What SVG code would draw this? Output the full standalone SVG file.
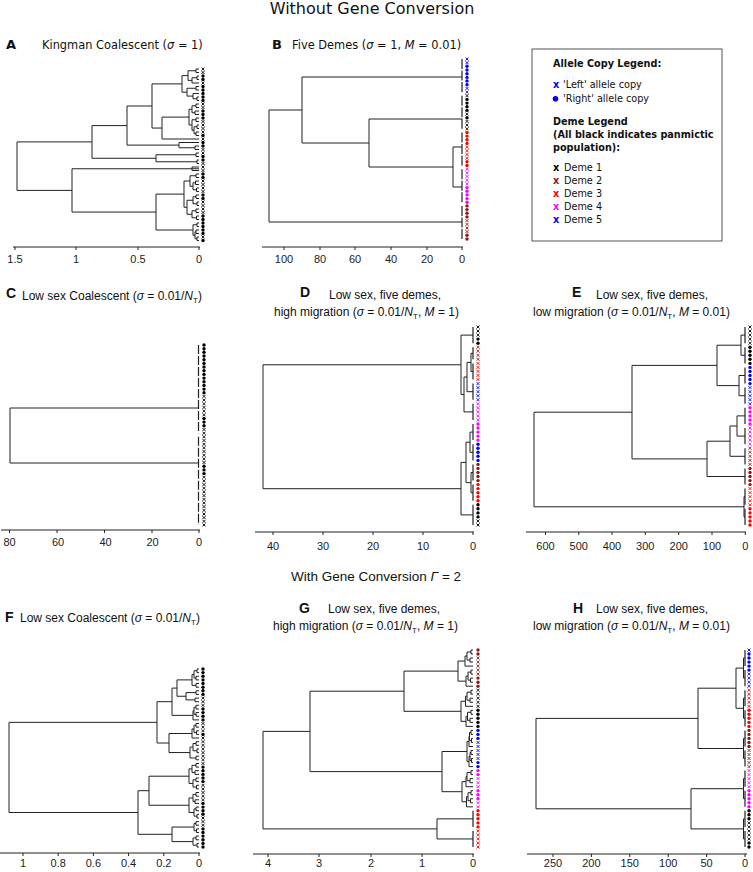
<svg xmlns="http://www.w3.org/2000/svg" xmlns:xlink="http://www.w3.org/1999/xlink" width="753" height="872" viewBox="0 0 753 872">
<style>
.dv{font-family:"DejaVu Sans",Verdana,sans-serif}
.ls{font-family:"Liberation Sans",Arial,sans-serif}
.tr{fill:none;stroke:#222;stroke-width:1}
.nz{fill:none;stroke:#222;stroke-width:1.2}
.ax{fill:none;stroke:#222;stroke-width:1}
.tk{font-family:"Liberation Sans",Arial,sans-serif;font-size:11px;text-anchor:middle;fill:#222}
.tt{font-family:"Liberation Sans",Arial,sans-serif;font-size:12px;fill:#111}
.lb{font-family:"Liberation Sans",Arial,sans-serif;font-size:14px;font-weight:bold;fill:#111}
.k{color:#000}.br{color:#8b1c1c}.r{color:#f00}.m{color:#f0f}.b{color:#00f}
.it{font-style:italic}
</style>
<defs>
<path id="x" d="M-1.5-1.5L1.5 1.5M-1.5 1.5L1.5-1.5" fill="none" stroke="currentColor" stroke-width="0.9"/>
<circle id="o" r="1.7" fill="currentColor"/>
</defs>
<rect width="753" height="872" fill="#fff"/>

<text x="372" y="14" text-anchor="middle" class="dv" font-size="16" fill="#111">Without Gene Conversion</text>
<text x="376" y="581" text-anchor="middle" class="ls" font-size="13.5" fill="#111">With Gene Conversion <tspan class="it">Γ</tspan> = 2</text>

<!-- Panel A -->
<g id="panelA">
<text x="6" y="49" class="dv" font-weight="bold" font-size="13" fill="#111">A</text>
<text x="42" y="49" class="dv" font-size="11.4" fill="#111">Kingman Coalescent (<tspan class="it">σ</tspan> = 1)</text>
<path class="tr" d="M199 69H196V72.5H199M199 76H197V79.5H199M197 77.75H192V83H199M196 70.75H188V80.4H192M199 86.5H196V90H199M199 97H197V100.5H199M199 93.5H193V98.75H197M196 88.25H187V96.1H193M188 75.6H182V92.2H187M199 104H196V107.5H199M199 111H195V114.5H199M196 105.75H192V112.75H195M199 118H196V121.5H199M199 125H197V128.5H199M199 132H196V135.5H199M197 126.75H194V133.75H196M196 119.75H192V130.25H194M192 109.25H189V125H192M189 117.1H162V139H199M182 83.9H152V128.05H162M199 146H195V149.5H199M199 142.5H179V147.75H195M152 106H127V145.1H179M199 153H196V156.5H199M199 160H197V163.5H199M196 154.75H156V161.75H197M127 125.6H92V158.25H156M199 167H192V170.5H199M199 174H196V177.5H199M199 181H195.5V184.5H199M199 188H196.5V191.5H199M195.5 182.75H193V189.75H196.5M196 175.75H190V186.25H193M199 195H196V198.5H199M199 202H197V205.5H199M196 196.75H193V203.75H197M199 209H196V212.5H199M199 216H196.5V219.5H199M196 210.75H192V217.75H196.5M193 200.25H187V214.25H192M190 181H184V207.25H187M199 223H197V226.5H199M199 230H196V233.5H199M199 237H197V240.5H199M196 231.75H195V238.75H197M197 224.75H193V235.25H195M184 194.1H156V230H193M199 168.75H72V212.05H156M92 141.9H17V190.4H72"/>
<g class="k" transform="translate(203 0)">
<use href="#x" y="69"/><use href="#x" y="72.5"/><use href="#o" y="76"/><use href="#o" y="79.5"/><use href="#x" y="83"/><use href="#o" y="86.5"/><use href="#o" y="90"/><use href="#o" y="93.5"/><use href="#o" y="97"/><use href="#o" y="100.5"/>
<use href="#x" y="104"/><use href="#x" y="107.5"/><use href="#o" y="111"/><use href="#o" y="114.5"/><use href="#o" y="118"/><use href="#x" y="121.5"/><use href="#x" y="125"/><use href="#x" y="128.5"/><use href="#x" y="132"/><use href="#o" y="135.5"/>
<use href="#x" y="139"/><use href="#o" y="142.5"/><use href="#o" y="146"/><use href="#x" y="149.5"/><use href="#x" y="153"/><use href="#o" y="156.5"/><use href="#o" y="160"/><use href="#x" y="163.5"/><use href="#x" y="167"/><use href="#x" y="170.5"/>
<use href="#o" y="174"/><use href="#o" y="177.5"/><use href="#x" y="181"/><use href="#x" y="184.5"/><use href="#x" y="188"/><use href="#x" y="191.5"/><use href="#o" y="195"/><use href="#o" y="198.5"/><use href="#x" y="202"/><use href="#x" y="205.5"/>
<use href="#x" y="209"/><use href="#x" y="212.5"/><use href="#o" y="216"/><use href="#o" y="219.5"/><use href="#o" y="223"/><use href="#o" y="226.5"/><use href="#o" y="230"/><use href="#o" y="233.5"/><use href="#x" y="237"/><use href="#o" y="240.5"/>
</g>
<path class="ax" d="M13 247H200M15 247v3M76 247v3M138 247v3M199 247v3"/>
<g class="tk"><text x="15" y="263">1.5</text><text x="76" y="263">1</text><text x="138" y="263">0.5</text><text x="199" y="263">0</text></g>
</g>

<!-- Panel B -->
<g id="panelB">
<text x="272" y="49" class="dv" font-weight="bold" font-size="13" fill="#111">B</text>
<text x="292" y="49" class="dv" font-size="11.4" fill="#111">Five Demes (<tspan class="it">σ</tspan> = 1, <tspan class="it">M</tspan> = 0.01)</text>
<path class="tr" d="M462 147H453V187H462M462 119H369V167H453M462 77H302V143H369M302 110H269V222H462"/>
<path class="nz" stroke-dasharray="10 1.5" d="M462 59V92.1M462 95.7V128.8M462 132.5V165.5M462 169.2V202.2M462 205.9V239"/>
<g transform="translate(467 0)">
<g class="b"><use href="#x" y="59"/><use href="#x" y="62.7"/><use href="#o" y="66.3"/><use href="#o" y="70"/><use href="#o" y="73.7"/><use href="#o" y="77.4"/><use href="#o" y="81"/><use href="#o" y="84.7"/><use href="#x" y="88.4"/><use href="#x" y="92.1"/></g>
<g class="k"><use href="#x" y="95.7"/><use href="#o" y="99.4"/><use href="#o" y="103.1"/><use href="#o" y="106.7"/><use href="#o" y="110.4"/><use href="#x" y="114.1"/><use href="#o" y="117.8"/><use href="#x" y="121.4"/><use href="#x" y="125.1"/><use href="#x" y="128.8"/></g>
<g class="r"><use href="#o" y="132.5"/><use href="#o" y="136.1"/><use href="#o" y="139.8"/><use href="#o" y="143.5"/><use href="#x" y="147.2"/><use href="#x" y="150.8"/><use href="#x" y="154.5"/><use href="#x" y="158.2"/><use href="#o" y="161.8"/><use href="#o" y="165.5"/></g>
<g class="m"><use href="#x" y="169.2"/><use href="#x" y="172.9"/><use href="#x" y="176.5"/><use href="#x" y="180.2"/><use href="#x" y="183.9"/><use href="#o" y="187.6"/><use href="#o" y="191.2"/><use href="#o" y="194.9"/><use href="#o" y="198.6"/><use href="#o" y="202.2"/></g>
<g class="br"><use href="#o" y="205.9"/><use href="#o" y="209.6"/><use href="#o" y="213.3"/><use href="#o" y="216.9"/><use href="#x" y="220.6"/><use href="#x" y="224.3"/><use href="#x" y="228"/><use href="#x" y="231.6"/><use href="#o" y="235.3"/><use href="#o" y="239"/></g>
</g>
<path class="ax" d="M262 247H463M284 247v3M320 247v3M355 247v3M391 247v3M427 247v3M462 247v3"/>
<g class="tk"><text x="284" y="263">100</text><text x="320" y="263">80</text><text x="355" y="263">60</text><text x="391" y="263">40</text><text x="427" y="263">20</text><text x="462" y="263">0</text></g>
</g>

<!-- Legend -->
<g id="legend">
<rect x="532" y="49" width="190" height="192" fill="#fff" stroke="#555" stroke-width="1"/>
<g class="dv" font-size="9.7" fill="#111">
<text x="553" y="67" font-weight="bold">Allele Copy Legend:</text>
<text x="553" y="88" font-weight="bold" fill="#00f">x</text><text x="563" y="88">'Left' allele copy</text>
<circle cx="555.5" cy="98.8" r="2.8" fill="#00f"/><text x="563" y="102">'Right' allele copy</text>
<text x="553" y="125" font-weight="bold">Deme Legend</text>
<text x="553" y="138" font-weight="bold">(All black indicates panmictic</text>
<text x="553" y="151" font-weight="bold">population):</text>
<text x="553" y="171" font-weight="bold" fill="#000">x</text><text x="564" y="171">Deme 1</text>
<text x="553" y="184" font-weight="bold" fill="#8b1c1c">x</text><text x="564" y="184">Deme 2</text>
<text x="553" y="197" font-weight="bold" fill="#f00">x</text><text x="564" y="197">Deme 3</text>
<text x="553" y="210" font-weight="bold" fill="#f0f">x</text><text x="564" y="210">Deme 4</text>
<text x="553" y="223" font-weight="bold" fill="#00f">x</text><text x="564" y="223">Deme 5</text>
</g>
</g>

<!-- Panel C -->
<g id="panelC">
<text x="6" y="298" class="lb">C</text>
<text x="22" y="300" class="tt">Low sex Coalescent (<tspan class="it">σ</tspan> = 0.01/<tspan class="it">N</tspan><tspan font-size="8" dy="3">T</tspan><tspan dy="-3">)</tspan></text>
<path class="tr" d="M199 408H10V463H199"/>
<path class="nz" stroke-dasharray="9 2" d="M198.5 345V433.2M198.5 436.8V525"/>
<g class="k" transform="translate(204 0)">
<use href="#o" y="345"/><use href="#o" y="348.7"/><use href="#o" y="352.3"/><use href="#o" y="356"/><use href="#o" y="359.7"/><use href="#o" y="363.4"/><use href="#o" y="367"/><use href="#o" y="370.7"/><use href="#o" y="374.4"/><use href="#o" y="378.1"/><use href="#o" y="381.7"/><use href="#o" y="385.4"/><use href="#o" y="389.1"/><use href="#o" y="392.7"/>
<use href="#x" y="396.4"/><use href="#x" y="400.1"/><use href="#x" y="403.8"/><use href="#x" y="407.4"/><use href="#x" y="411.1"/><use href="#x" y="414.8"/>
<use href="#o" y="418.5"/><use href="#o" y="422.1"/><use href="#o" y="425.8"/>
<use href="#x" y="429.5"/><use href="#x" y="433.2"/><use href="#x" y="436.8"/><use href="#x" y="440.5"/><use href="#x" y="444.2"/><use href="#x" y="447.8"/><use href="#x" y="451.5"/><use href="#x" y="455.2"/><use href="#x" y="458.9"/><use href="#x" y="462.5"/>
<use href="#o" y="466.2"/><use href="#o" y="469.9"/><use href="#o" y="473.6"/>
<use href="#x" y="477.2"/><use href="#x" y="480.9"/><use href="#x" y="484.6"/><use href="#x" y="488.2"/><use href="#x" y="491.9"/><use href="#x" y="495.6"/><use href="#x" y="499.3"/><use href="#x" y="502.9"/><use href="#x" y="506.6"/><use href="#x" y="510.3"/><use href="#x" y="514"/><use href="#x" y="517.6"/><use href="#x" y="521.3"/><use href="#x" y="525"/>
</g>
<path class="ax" d="M1 530H200M9.5 530v3M57 530v3M104.5 530v3M152 530v3M199 530v3"/>
<g class="tk"><text x="9.5" y="546">80</text><text x="58" y="546">60</text><text x="105.5" y="546">40</text><text x="152.5" y="546">20</text><text x="199" y="546">0</text></g>
</g>

<!-- Panel D -->
<g id="panelD">
<text x="300" y="297" class="lb">D</text>
<text x="329" y="299" class="tt">Low sex, five demes,</text>
<text x="274" y="316" class="tt">high migration (<tspan class="it">σ</tspan> = 0.01/<tspan class="it">N</tspan><tspan font-size="8" dy="3">T</tspan><tspan dy="-3">, </tspan><tspan class="it">M</tspan> = 1)</text>
<path class="tr" d="M473 353.3H471V371.5H473M471 362.4H467V391.7H473M467 377H464V411.9H473M473 335.1H461V394.5H464M473 432.1H470V452.3H473M473 472.5H471V492.7H473M470 442.2H466V482.6H471M466 462.4H461V514.9H473M461 364.8H263V488.7H461"/>
<path class="nz" d="M473 327V343.2M473 347.2V359.3M473 363.4V379.5M473 383.6V399.7M473 403.8V419.9M473 424V440.1M473 444.2V460.4M473 464.4V480.6M473 484.6V500.8M473 504.8V525"/>
<g transform="translate(478 0)">
<g class="k"><use href="#x" y="327"/><use href="#x" y="331"/><use href="#x" y="335.1"/><use href="#o" y="339.1"/><use href="#o" y="343.2"/></g>
<g class="br"><use href="#x" y="347.2"/><use href="#x" y="351.2"/><use href="#x" y="355.3"/><use href="#x" y="359.3"/></g>
<g class="r"><use href="#x" y="363.4"/><use href="#x" y="367.4"/><use href="#x" y="371.4"/><use href="#x" y="375.5"/><use href="#x" y="379.5"/></g>
<g class="b"><use href="#x" y="383.6"/><use href="#x" y="387.6"/><use href="#x" y="391.7"/><use href="#x" y="395.7"/><use href="#x" y="399.7"/></g>
<g class="m"><use href="#x" y="403.8"/><use href="#x" y="407.8"/><use href="#x" y="411.9"/><use href="#x" y="415.9"/><use href="#x" y="419.9"/><use href="#o" y="424"/><use href="#o" y="428"/><use href="#o" y="432.1"/><use href="#o" y="436.1"/><use href="#o" y="440.1"/></g>
<g class="b"><use href="#o" y="444.2"/><use href="#o" y="448.2"/><use href="#o" y="452.3"/><use href="#o" y="456.3"/><use href="#o" y="460.4"/></g>
<g class="br"><use href="#o" y="464.4"/><use href="#o" y="468.4"/><use href="#o" y="472.5"/><use href="#o" y="476.5"/><use href="#o" y="480.6"/></g>
<g class="r"><use href="#o" y="484.6"/><use href="#o" y="488.6"/><use href="#o" y="492.7"/><use href="#o" y="496.7"/><use href="#o" y="500.8"/></g>
<g class="k"><use href="#o" y="504.8"/><use href="#o" y="508.8"/><use href="#o" y="512.9"/><use href="#o" y="516.9"/><use href="#x" y="521"/><use href="#x" y="525"/></g>
</g>
<path class="ax" d="M255 532H474M273 532v3M323 532v3M373 532v3M423 532v3M473 532v3"/>
<g class="tk"><text x="273" y="550">40</text><text x="323" y="550">30</text><text x="373" y="550">20</text><text x="423" y="550">10</text><text x="473" y="550">0</text></g>
</g>

<!-- Panel E -->
<g id="panelE">
<text x="572" y="297" class="lb">E</text>
<text x="596" y="299" class="tt">Low sex, five demes,</text>
<text x="533" y="316" class="tt">low migration (<tspan class="it">σ</tspan> = 0.01/<tspan class="it">N</tspan><tspan font-size="8" dy="3">T</tspan><tspan dy="-3">, </tspan><tspan class="it">M</tspan> = 0.01)</text>
<path class="tr" d="M745 335.1H741V355.3H745M745 375.5H739V395.7H745M741 345.2H717V385.6H739M745 415.9H737V436.1H745M737 426H730V456.3H745M730 441.2H707V476.5H745M717 365.4H632V458.9H707M745 496.7H744V516.9H745M632 412.2H534V506.8H744"/>
<path class="nz" d="M745 327V343.2M745 347.2V363.4M745 367.4V383.6M745 387.6V403.8M745 407.8V424M745 428V444.2M745 448.2V464.4M745 468.4V484.6M745 488.6V504.8M745 508.8V525"/>
<g transform="translate(750 0)">
<g class="k"><use href="#x" y="327"/><use href="#x" y="331"/><use href="#x" y="335.1"/><use href="#x" y="339.1"/><use href="#x" y="343.2"/><use href="#o" y="347.2"/><use href="#o" y="351.2"/><use href="#o" y="355.3"/><use href="#o" y="359.3"/><use href="#o" y="363.4"/></g>
<g class="b"><use href="#o" y="367.4"/><use href="#o" y="371.4"/><use href="#o" y="375.5"/><use href="#o" y="379.5"/><use href="#o" y="383.6"/><use href="#x" y="387.6"/><use href="#x" y="391.7"/><use href="#x" y="395.7"/><use href="#x" y="399.7"/><use href="#x" y="403.8"/></g>
<g class="m"><use href="#o" y="407.8"/><use href="#o" y="411.9"/><use href="#o" y="415.9"/><use href="#o" y="419.9"/><use href="#o" y="424"/><use href="#x" y="428"/><use href="#x" y="432.1"/><use href="#x" y="436.1"/><use href="#x" y="440.1"/><use href="#x" y="444.2"/></g>
<g class="br"><use href="#x" y="448.2"/><use href="#x" y="452.3"/><use href="#x" y="456.3"/><use href="#x" y="460.4"/><use href="#x" y="464.4"/><use href="#o" y="468.4"/><use href="#o" y="472.5"/><use href="#o" y="476.5"/><use href="#o" y="480.6"/><use href="#o" y="484.6"/></g>
<g class="r"><use href="#x" y="488.6"/><use href="#x" y="492.7"/><use href="#x" y="496.7"/><use href="#x" y="500.8"/><use href="#x" y="504.8"/><use href="#o" y="508.8"/><use href="#o" y="512.9"/><use href="#o" y="516.9"/><use href="#o" y="521"/><use href="#o" y="525"/></g>
</g>
<path class="ax" d="M526 532H746M545.5 532v3M578.8 532v3M612 532v3M645.3 532v3M678.7 532v3M712 532v3M745.3 532v3"/>
<g class="tk"><text x="545.5" y="550">600</text><text x="578.8" y="550">500</text><text x="612" y="550">400</text><text x="645.3" y="550">300</text><text x="678.7" y="550">200</text><text x="712" y="550">100</text><text x="745.3" y="550">0</text></g>
</g>

<!-- Panel F -->
<g id="panelF">
<text x="5" y="622" class="lb">F</text>
<text x="20" y="622" class="tt">Low sex Coalescent (<tspan class="it">σ</tspan> = 0.01/<tspan class="it">N</tspan><tspan font-size="8" dy="3">T</tspan><tspan dy="-3">)</tspan></text>
<path class="tr" d="M199 669H197V672.6H199M199 676.3H196V679.9H199M197 670.8H194V678.1H196M199 683.5H196V687.2H199M194 674.45H192V685.35H196M199 690.8H196V694.4H199M199 698.1H195V701.7H199M196 692.6H186V699.9H195M192 679.9H177V696.25H186M199 705.3H196V709H199M199 712.6H196V716.2H199M196 707.15H194V714.4H196M194 710.8H193V719.9H199M177 688.1H172V715.35H193M199 723.5H196V727.1H199M199 730.8H196.5V734.4H199M196 725.3H194V732.6H196.5M194 728.95H192V738H199M199 741.7H196V745.3H199M199 748.9H197V752.6H199M196 743.5H193V750.75H197M199 756.2H196V759.8H199M193 747.1H190V758H196M192 733.5H169V752.55H190M172 701.7H157V743H169M199 763.5H196V767.1H199M199 770.7H195V774.4H199M196 765.3H192V772.55H195M199 778H196V781.6H199M199 785.3H196.5V788.9H199M196 779.8H193V787.1H196.5M192 768.9H189V783.45H193M199 792.5H196V796.2H199M199 799.8H195V803.4H199M196 794.35H193V801.6H195M199 807.1H196V810.7H199M199 814.3H197V818H199M196 808.9H194V816.15H197M193 798H189V812.5H194M189 776.2H149V805.25H189M199 821.6H196V825.2H199M199 828.9H196.5V832.5H199M196 823.4H194V830.7H196.5M199 836.1H196V839.8H199M199 843.4H197V847H199M196 837.95H193V845.2H197M194 827.05H172V841.6H193M149 790.7H138V834.3H172M157 722.35H9V812.5H138"/>
<g class="k" transform="translate(203 0)">
<use href="#o" y="669"/><use href="#o" y="672.6"/><use href="#o" y="676.3"/><use href="#o" y="679.9"/><use href="#o" y="683.5"/><use href="#o" y="687.2"/><use href="#o" y="690.8"/><use href="#o" y="694.4"/>
<use href="#x" y="698.1"/><use href="#x" y="701.7"/><use href="#x" y="705.3"/>
<use href="#o" y="709"/><use href="#o" y="712.6"/><use href="#o" y="716.2"/><use href="#o" y="719.9"/>
<use href="#x" y="723.5"/><use href="#x" y="727.1"/><use href="#x" y="730.8"/><use href="#o" y="734.4"/>
<use href="#x" y="738"/><use href="#x" y="741.7"/><use href="#x" y="745.3"/><use href="#x" y="748.9"/><use href="#x" y="752.6"/><use href="#x" y="756.2"/><use href="#x" y="759.8"/><use href="#x" y="763.5"/>
<use href="#o" y="767.1"/><use href="#o" y="770.7"/><use href="#o" y="774.4"/><use href="#o" y="778"/><use href="#o" y="781.6"/>
<use href="#x" y="785.3"/><use href="#x" y="788.9"/><use href="#x" y="792.5"/><use href="#x" y="796.2"/><use href="#x" y="799.8"/>
<use href="#o" y="803.4"/><use href="#o" y="807.1"/><use href="#o" y="810.7"/><use href="#o" y="814.3"/>
<use href="#x" y="818"/><use href="#x" y="821.6"/><use href="#x" y="825.2"/>
<use href="#o" y="828.9"/><use href="#o" y="832.5"/><use href="#o" y="836.1"/><use href="#o" y="839.8"/><use href="#o" y="843.4"/><use href="#o" y="847"/>
</g>
<path class="ax" d="M0 853H200M23 853v3M58.2 853v3M93.4 853v3M128.6 853v3M163.8 853v3M199 853v3"/>
<g class="tk"><text x="23" y="867">1</text><text x="58.2" y="867">0.8</text><text x="93.4" y="867">0.6</text><text x="128.6" y="867">0.4</text><text x="163.8" y="867">0.2</text><text x="199" y="867">0</text></g>
</g>

<!-- Panel G -->
<g id="panelG">
<text x="299" y="613" class="lb">G</text>
<text x="328" y="613" class="tt">Low sex, five demes,</text>
<text x="273" y="630" class="tt">high migration (<tspan class="it">σ</tspan> = 0.01/<tspan class="it">N</tspan><tspan font-size="8" dy="3">T</tspan><tspan dy="-3">, </tspan><tspan class="it">M</tspan> = 1)</text>
<path class="tr" d="M473 650H471V654H473M473 658H470V662.1H473M471 652H467V660.05H470M467 656H465V666.1H473M473 670.1H471V674.1H473M473 678.1H470.5V682.2H473M471 672.1H468V680.15H470.5M468 676.1H466V686.2H473M465 661.05H458V681.15H466M473 690.2H471V694.2H473M473 698.2H470V702.3H473M471 692.2H467V700.25H470M467 696.2H465.5V706.3H473M473 710.3H471V714.3H473M473 718.3H470V722.4H473M471 712.3H467.5V720.35H470M467.5 716.3H466V726.4H473M465.5 701.25H461V721.35H466M458 671.1H404V711.3H461M473 730.4H471V734.4H473M473 738.4H471.5V742.5H473M471 732.4H469.5V740.45H471.5M469.5 736.4H469V746.5H473M473 750.5H471V754.5H473M473 758.5H471.5V762.6H473M471 752.5H470V760.55H471.5M470 756.5H469V766.6H473M469 741.45H467V761.55H469M473 770.6H471V774.6H473M473 778.6H470V782.7H473M471 772.6H467V780.65H470M467 776.6H466V786.7H473M473 790.7H471V794.7H473M473 798.7H470.5V802.8H473M471 792.7H468V800.75H470.5M468 796.7H466.5V806.8H473M466 781.65H462V801.75H466.5M467 751.5H442V791.7H462M404 691.2H310V771.6H442M473 818.85H437V838.95H473M310 731.4H263V828.9H437"/>
<path class="nz" d="M473 810.8V826.9M473 830.9V847"/>
<g transform="translate(478 0)">
<g class="br"><use href="#o" y="650"/><use href="#o" y="654"/><use href="#x" y="658"/><use href="#x" y="662.1"/><use href="#x" y="666.1"/><use href="#x" y="670.1"/><use href="#x" y="674.1"/><use href="#o" y="678.1"/><use href="#o" y="682.2"/><use href="#o" y="686.2"/></g>
<g class="k"><use href="#x" y="690.2"/><use href="#x" y="694.2"/><use href="#x" y="698.2"/><use href="#x" y="702.3"/><use href="#x" y="706.3"/><use href="#o" y="710.3"/><use href="#o" y="714.3"/><use href="#o" y="718.3"/><use href="#o" y="722.4"/><use href="#o" y="726.4"/></g>
<g class="b"><use href="#o" y="730.4"/><use href="#o" y="734.4"/><use href="#o" y="738.4"/><use href="#x" y="742.5"/><use href="#x" y="746.5"/><use href="#x" y="750.5"/><use href="#x" y="754.5"/><use href="#x" y="758.5"/><use href="#o" y="762.6"/><use href="#o" y="766.6"/></g>
<g class="m"><use href="#o" y="770.6"/><use href="#o" y="774.6"/><use href="#x" y="778.6"/><use href="#x" y="782.7"/><use href="#x" y="786.7"/><use href="#o" y="790.7"/><use href="#o" y="794.7"/><use href="#o" y="798.7"/><use href="#x" y="802.8"/><use href="#x" y="806.8"/></g>
<g class="r"><use href="#o" y="810.8"/><use href="#o" y="814.8"/><use href="#o" y="818.8"/><use href="#o" y="822.9"/><use href="#o" y="826.9"/><use href="#x" y="830.9"/><use href="#x" y="834.9"/><use href="#x" y="838.9"/><use href="#x" y="843"/><use href="#x" y="847"/></g>
</g>
<path class="ax" d="M253 854H474M268 854v3M319 854v3M371 854v3M422 854v3M473 854v3"/>
<g class="tk"><text x="268" y="867">4</text><text x="319" y="867">3</text><text x="371" y="867">2</text><text x="422" y="867">1</text><text x="473" y="867">0</text></g>
</g>

<!-- Panel H -->
<g id="panelH">
<text x="573" y="613" class="lb">H</text>
<text x="596" y="613" class="tt">Low sex, five demes,</text>
<text x="533" y="630" class="tt">low migration (<tspan class="it">σ</tspan> = 0.01/<tspan class="it">N</tspan><tspan font-size="8" dy="3">T</tspan><tspan dy="-3">, </tspan><tspan class="it">M</tspan> = 0.01)</text>
<path class="tr" d="M745 658H743.5V678.1H745M745 698.2H743.5V718.3H745M745 738.4H743.5V758.5H745M745 778.6H743.5V798.7H745M745 818.8H743.5V838.9H745M743.5 668.1H736V708.3H743.5M736 688.2H698V748.5H743.5M743.5 788.7H691V828.9H743.5M698 718.4H536V808.8H691"/>
<path class="nz" d="M745 650V666.1M745 670.1V686.2M745 690.2V706.3M745 710.3V726.4M745 730.4V746.5M745 750.5V766.6M745 770.6V786.7M745 790.7V806.8M745 810.8V826.9M745 830.9V847"/>
<g transform="translate(749 0)">
<g class="b"><use href="#x" y="650"/><use href="#o" y="654"/><use href="#o" y="658"/><use href="#o" y="662.1"/><use href="#o" y="666.1"/><use href="#o" y="670.1"/><use href="#x" y="674.1"/><use href="#x" y="678.1"/><use href="#x" y="682.2"/><use href="#x" y="686.2"/></g>
<g class="r"><use href="#x" y="690.2"/><use href="#x" y="694.2"/><use href="#x" y="698.2"/><use href="#x" y="702.3"/><use href="#x" y="706.3"/><use href="#o" y="710.3"/><use href="#o" y="714.3"/><use href="#o" y="718.3"/><use href="#o" y="722.4"/><use href="#o" y="726.4"/></g>
<g class="br"><use href="#o" y="730.4"/><use href="#o" y="734.4"/><use href="#o" y="738.4"/><use href="#o" y="742.5"/><use href="#o" y="746.5"/><use href="#x" y="750.5"/><use href="#x" y="754.5"/><use href="#x" y="758.5"/><use href="#x" y="762.6"/><use href="#x" y="766.6"/></g>
<g class="m"><use href="#x" y="770.6"/><use href="#x" y="774.6"/><use href="#x" y="778.6"/><use href="#x" y="782.7"/><use href="#x" y="786.7"/><use href="#o" y="790.7"/><use href="#o" y="794.7"/><use href="#o" y="798.7"/><use href="#o" y="802.8"/><use href="#o" y="806.8"/></g>
<g class="k"><use href="#o" y="810.8"/><use href="#o" y="814.8"/><use href="#o" y="818.8"/><use href="#x" y="822.9"/><use href="#x" y="826.9"/><use href="#x" y="830.9"/><use href="#x" y="834.9"/><use href="#x" y="838.9"/><use href="#o" y="843"/><use href="#o" y="847"/></g>
</g>
<path class="ax" d="M527 854H747M553 854v3M591.4 854v3M629.8 854v3M668.2 854v3M706.6 854v3M745 854v3"/>
<g class="tk"><text x="553" y="867">250</text><text x="591.4" y="867">200</text><text x="629.8" y="867">150</text><text x="668.2" y="867">100</text><text x="706.6" y="867">50</text><text x="745" y="867">0</text></g>
</g>
</svg>
